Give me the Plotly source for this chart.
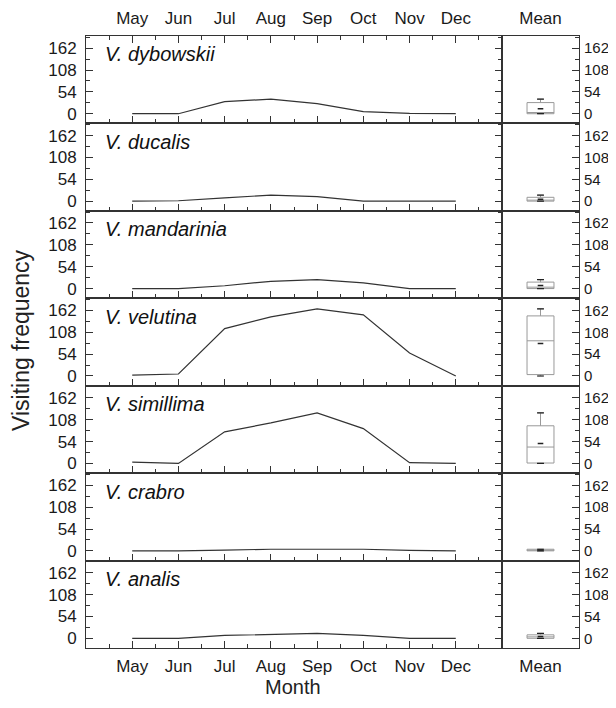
import plotly.graph_objects as go
from plotly.subplots import make_subplots
import numpy as np

months = ["May", "Jun", "Jul", "Aug", "Sep", "Oct", "Nov", "Dec"]
species = ["V. dybowskii", "V. ducalis", "V. mandarinia", "V. velutina",
           "V. simillima", "V. crabro", "V. analis"]
dybowskii = [0, 0, 30, 36, 25, 5, 1, 0]
ducalis = [0, 1, 8, 15, 11, 0, 0, 0]
mandarinia = [0, 0, 7, 18, 22, 14, 0, 0]
velutina = [2, 5, 117, 146, 166, 151, 57, 0]
simillima = [3, 0, 78, 100, 125, 86, 2, 0]
crabro = [0, 0, 2, 4, 4, 4, 1, 0]
analis = [0, 0, 7, 10, 12, 7, 0, 0]
y_ticks = [0, 54, 108, 162]

series = [dybowskii, ducalis, mandarinia, velutina, simillima, crabro, analis]
month_pos = list(range(1, len(months) + 1))

n = len(species)
OFF = 8  # default page body margin
W, H = 616 - OFF, 708 - 2 * OFF
ml, mt = 86 - OFF, 36 - OFF
mr = W - (579 - OFF)
mb = H - (648 - OFF)
PW, PH = W - ml - mr, H - mt - mb
fig = make_subplots(rows=n, cols=2, column_widths=[416, 77],
                    horizontal_spacing=0, vertical_spacing=0)

FONT = "Liberation Sans, Arial, sans-serif"
AX = "#333333"
tickfont = dict(family=FONT, size=17, color="#1a1a1a")
rtickfont = dict(family=FONT, size=15, color="#1a1a1a")


def axname(k):
    return "" if k == 1 else str(k)


def px_x(sx):
    return (sx - OFF - ml) / PW


def px_y(sy):
    return 1 - (sy - OFF - mt) / PH


for i, (name, vals) in enumerate(zip(species, series)):
    r = i + 1
    fig.add_trace(go.Scatter(x=month_pos, y=vals, mode="lines",
                             line=dict(color="#333", width=1.2),
                             showlegend=False, hoverinfo="skip"), row=r, col=1)
    fig.add_trace(go.Box(y=vals, x=["Mean"] * len(vals), boxpoints=False,
                         width=0.35, whiskerwidth=0.2,
                         fillcolor="white", line=dict(color="#999", width=1),
                         showlegend=False, hoverinfo="skip"), row=r, col=2)
    fig.add_trace(go.Scatter(x=["Mean"], y=[float(np.mean(vals))], mode="markers",
                             marker=dict(symbol="line-ew", size=4, color="#222",
                                         line=dict(width=1.5, color="#222")),
                             showlegend=False, hoverinfo="skip"), row=r, col=2)
    fig.add_trace(go.Scatter(x=["Mean", "Mean"], y=[min(vals), max(vals)], mode="markers",
                             marker=dict(symbol="line-ew", size=5, color="#222",
                                         line=dict(width=1.2, color="#222")),
                             showlegend=False, hoverinfo="skip"), row=r, col=2)

    mx = 2 * i + 1
    bx = 2 * i + 2
    xa = dict(range=[0, len(months) + 1], tickvals=month_pos, ticktext=months,
              ticks="inside", ticklen=7, tickwidth=1, tickcolor=AX,
              minor=dict(tickvals=[p - 0.5 for p in month_pos] + [month_pos[-1] + 0.5],
                         ticklen=4, tickwidth=1, tickcolor=AX, ticks="inside"),
              showline=True, linecolor=AX, linewidth=1, showgrid=False,
              zeroline=False, tickfont=tickfont, fixedrange=True, automargin=False)
    if r == 1:
        xa.update(side="top", mirror="ticks", showticklabels=True, ticklabelstandoff=4)
    elif r == n:
        xa.update(side="bottom", mirror=True, showticklabels=True, ticklabelstandoff=3)
    else:
        xa.update(side="bottom", mirror=True, showticklabels=False)
    fig.update_layout(**{f"xaxis{axname(mx)}": xa})

    xb = dict(range=[-0.5, 0.5], ticks="", showline=True, linecolor=AX,
              linewidth=1, mirror=True, showgrid=False, zeroline=False,
              tickfont=tickfont, fixedrange=True, automargin=False)
    if r == 1:
        xb.update(side="top", showticklabels=True, ticklabelstandoff=4)
    elif r == n:
        xb.update(side="bottom", showticklabels=True, ticklabelstandoff=3)
    else:
        xb.update(showticklabels=False)
    fig.update_layout(**{f"xaxis{axname(bx)}": xb})

    ya = dict(range=[-24, 192], tickvals=y_ticks, ticks="inside", ticklen=7,
              tickwidth=1, tickcolor=AX,
              minor=dict(tickvals=[27, 81, 135, 189], ticklen=4, tickwidth=1,
                         tickcolor=AX, ticks="inside"),
              showline=True, linecolor=AX, linewidth=1, showgrid=False,
              zeroline=False, tickfont=tickfont, fixedrange=True, automargin=False,
              ticklabelstandoff=5)
    yam = dict(ya, mirror="ticks", side="left")
    yab = dict(ya, mirror=True, side="right", tickfont=rtickfont, ticklabelstandoff=1)
    fig.update_layout(**{f"yaxis{axname(mx)}": yam, f"yaxis{axname(bx)}": yab})

    fig.add_annotation(text=f"<i>{name}</i>", xref=f"x{axname(mx)} domain",
                       yref=f"y{axname(mx)} domain",
                       x=0.04, y=0.79, xanchor="left", yanchor="middle", showarrow=False,
                       font=dict(family=FONT, size=20, color="#111"))

fig.add_annotation(text="Visiting frequency", xref="paper", yref="paper",
                   x=px_x(21), y=px_y(340), textangle=-90, showarrow=False,
                   xanchor="center", yanchor="middle",
                   font=dict(family=FONT, size=23, color="#222"))
fig.add_annotation(text="Month", xref="paper", yref="paper",
                   x=px_x(293), y=px_y(687),
                   showarrow=False, xanchor="center", yanchor="middle",
                   font=dict(family=FONT, size=20, color="#222"))

fig.update_layout(width=W, height=H, margin=dict(l=ml, r=mr, t=mt, b=mb),
                  paper_bgcolor="white", plot_bgcolor="white", showlegend=False)

fig.write_html("out.html")
